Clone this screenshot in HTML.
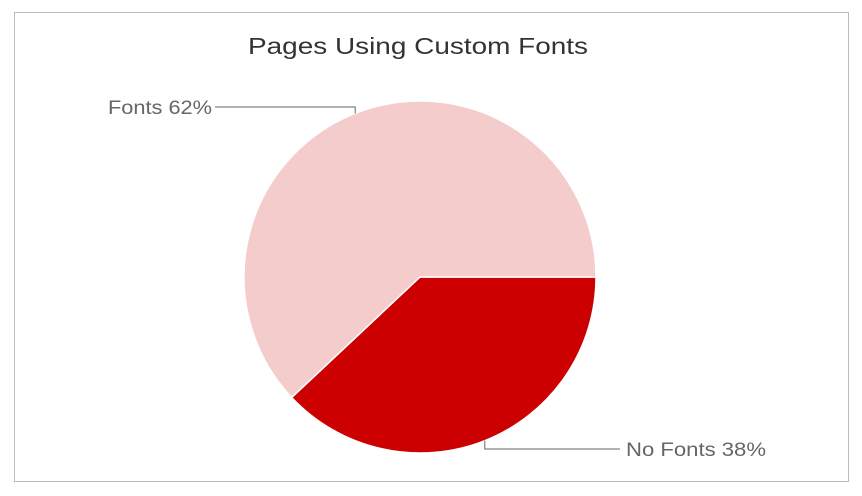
<!DOCTYPE html>
<html><head><meta charset="utf-8"><style>
html,body{margin:0;padding:0;background:#fff;}
svg{display:block;font-family:"Liberation Sans",Arial,sans-serif;}
</style></head><body>
<svg width="862" height="496">
<rect x="14.5" y="12.5" width="834" height="469" fill="#fff" stroke="#bbb"/>
<text x="248" y="54" font-size="23" fill="#333" textLength="340" lengthAdjust="spacingAndGlyphs">Pages Using Custom Fonts</text>
<g id="slices"></g>
<g id="labels"></g>
</svg>
<script>
const categories = ["Fonts", "No Fonts"];
const values = [62, 38];
const colors = ["#f4cccc", "#cc0000"];
const ns = "http://www.w3.org/2000/svg";
const cx = 420, cy = 277, r = 176;
const total = values.reduce((a,b)=>a+b,0);
const g = document.getElementById('slices');
const lg = document.getElementById('labels');
function pt(a, rr){return [cx + rr*Math.cos(a), cy + rr*Math.sin(a)];}
let start = 0;
const order = [1, 0];
order.forEach(i => {
  const ang = values[i]/total*2*Math.PI;
  const a0 = start, a1 = start + ang;
  const p0 = pt(a0, r), p1 = pt(a1, r);
  const large = ang > Math.PI ? 1 : 0;
  const p = document.createElementNS(ns, 'path');
  p.setAttribute('d', `M${cx},${cy} L${p0[0]},${p0[1]} A${r},${r} 0 ${large} 1 ${p1[0]},${p1[1]} Z`);
  p.setAttribute('fill', colors[i]);
  p.setAttribute('stroke', '#fff');
  p.setAttribute('stroke-width', '1.5');
  
  
  g.appendChild(p);
  const mid = (a0 + a1) / 2;
  const e = pt(mid, r);
  const right = Math.cos(mid) > 0;
  const ly = right ? 449 : 107;
  const line = document.createElementNS(ns, 'polyline');
  const lx = right ? 620 : 215;
  line.setAttribute('points', `${e[0]},${e[1]} ${e[0]},${ly} ${lx},${ly}`);
  line.setAttribute('fill', 'none');
  line.setAttribute('stroke', '#666');
  line.setAttribute('stroke-width', '1');
  
  
  lg.appendChild(line);
  const t = document.createElementNS(ns, 'text');
  const w = right ? 140 : 104;
  t.setAttribute('x', right ? 626 : 108);
  t.setAttribute('y', ly + 7);
  t.setAttribute('font-size', '19');
  t.setAttribute('textLength', w);
  t.setAttribute('lengthAdjust', 'spacingAndGlyphs');
  t.setAttribute('fill', '#666');
  
  
  t.textContent = categories[i] + ' ' + Math.round(values[i]/total*100) + '%';
  lg.appendChild(t);
  start = a1;
});
</script>
</body></html>
